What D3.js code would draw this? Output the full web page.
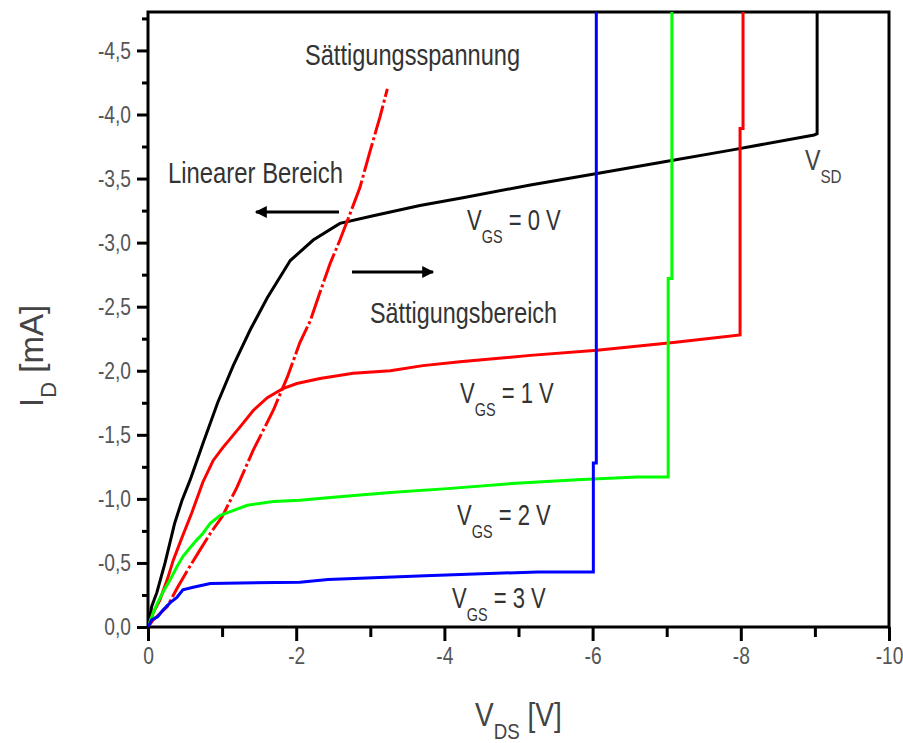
<!DOCTYPE html>
<html>
<head>
<meta charset="utf-8">
<script src="https://cdn.jsdelivr.net/npm/d3@7"></script>
<style>
  body { margin: 0; background: #fff; }
  text { font-family: "Liberation Sans", Arial, sans-serif; }
</style>
</head>
<body>
<svg id="chart" width="903" height="743"></svg>
<script>
// output characteristics of the transistor, [V_DS (V), I_D (mA)]
var curve0V = [[0,0],[-0.05,-0.16],[-0.12,-0.27],[-0.23,-0.5],[-0.36,-0.81],[-0.46,-0.99],[-0.57,-1.15],
  [-0.74,-1.43],[-0.94,-1.75],[-1.15,-2.04],[-1.38,-2.32],[-1.61,-2.57],[-1.92,-2.86],[-2.23,-3.02],
  [-2.59,-3.15],[-3.04,-3.21],[-3.67,-3.29],[-4.25,-3.35],[-5.16,-3.45],[-6.06,-3.54],[-6.95,-3.63],
  [-7.85,-3.72],[-8.99,-3.84],[-9.03,-3.85],[-9.03,-5]]
var curve1V = [[0,0],[-0.07,-0.11],[-0.16,-0.21],[-0.26,-0.37],[-0.34,-0.52],[-0.46,-0.7],[-0.59,-0.89],
  [-0.74,-1.13],[-0.88,-1.3],[-1.01,-1.4],[-1.24,-1.56],[-1.42,-1.69],[-1.61,-1.79],[-1.82,-1.86],
  [-2.01,-1.9],[-2.32,-1.94],[-2.77,-1.98],[-3.27,-2.0],[-3.71,-2.04],[-4.21,-2.07],[-5.16,-2.12],
  [-6.06,-2.16],[-7.09,-2.22],[-7.99,-2.28],[-7.99,-3.89],[-8.03,-3.89],[-8.03,-5]]
var curve2V = [[0,0],[-0.07,-0.11],[-0.13,-0.19],[-0.2,-0.27],[-0.3,-0.37],[-0.39,-0.47],[-0.47,-0.55],
  [-0.57,-0.62],[-0.66,-0.68],[-0.74,-0.73],[-0.84,-0.81],[-0.97,-0.87],[-1.11,-0.9],[-1.34,-0.95],
  [-1.69,-0.98],[-2.05,-0.99],[-2.46,-1.01],[-3.27,-1.05],[-4.04,-1.08],[-4.91,-1.12],[-5.79,-1.15],
  [-6.6,-1.17],[-7.02,-1.17],[-7.02,-2.72],[-7.07,-2.72],[-7.07,-5]]
var curve3V = [[0,0],[-0.05,-0.055],[-0.13,-0.08],[-0.2,-0.13],[-0.3,-0.19],[-0.39,-0.23],[-0.47,-0.29],
  [-0.61,-0.31],[-0.84,-0.34],[-2.05,-0.35],[-2.43,-0.37],[-3.74,-0.4],[-5.26,-0.43],[-6.01,-0.43],
  [-6.01,-1.28],[-6.05,-1.28],[-6.05,-5]]
// saturation voltage locus
var satLine = [[0,0],[-0.07,-0.055],[-0.26,-0.16],[-0.4,-0.31],[-0.53,-0.44],[-0.7,-0.6],[-0.84,-0.73],
  [-1.0,-0.86],[-1.2,-1.09],[-1.42,-1.38],[-1.69,-1.69],[-1.88,-1.95],[-2.05,-2.22],[-2.19,-2.39],
  [-2.32,-2.61],[-2.46,-2.84],[-2.59,-3.02],[-2.73,-3.23],[-2.86,-3.43],[-3.0,-3.72],[-3.13,-3.98],[-3.23,-4.2]]

var xMajor = [0, -2, -4, -6, -8, -10]
var xMinor = [-1, -3, -5, -7, -9]
var yMajor = [0, -0.5, -1, -1.5, -2, -2.5, -3, -3.5, -4, -4.5]
var yMinor = [-0.25, -0.75, -1.25, -1.75, -2.25, -2.75, -3.25, -3.75, -4.25, -4.75]

var margin = {top: 12, right: 14, bottom: 116, left: 148},
    width = 903 - margin.left - margin.right,
    height = 743 - margin.top - margin.bottom;

var svg = d3.select("#chart")
  .append("g")
    .attr("transform", "translate(" + margin.left + "," + margin.top + ")");

var x = d3.scaleLinear().domain([0, -10]).range([0, width])
var y = d3.scaleLinear().domain([0, -4.8]).range([height, 0])

// narrow the glyphs: the source font is a condensed one
function squeeze(sel, f) {
  sel.each(function() {
    var t = d3.select(this)
    var x0 = +t.attr("x") || 0, y0 = +t.attr("y") || 0
    t.attr("x", 0).attr("y", 0)
      .attr("transform", "translate(" + x0 + "," + y0 + ") scale(" + f + ",1)")
  })
}

svg.append("clipPath").attr("id", "plotclip")
  .append("rect").attr("width", width).attr("height", height)

// axes
svg.append("g")
  .attr("transform", "translate(0," + height + ")")
  .call(d3.axisBottom(x).tickValues(xMajor).tickSize(14).tickSizeOuter(0).tickPadding(6)
    .tickFormat(function(d) { return d === 0 ? "0" : String(d) }))
svg.append("g")
  .attr("transform", "translate(0," + height + ")")
  .call(d3.axisBottom(x).tickValues(xMinor).tickSize(10).tickSizeOuter(0).tickFormat(""))

svg.append("g")
  .call(d3.axisLeft(y).tickValues(yMajor).tickSize(11).tickSizeOuter(0).tickPadding(6)
    .tickFormat(function(d) { return d === 0 ? "0,0" : d.toFixed(1).replace(".", ",") }))
svg.append("g")
  .call(d3.axisLeft(y).tickValues(yMinor).tickSize(6).tickSizeOuter(0).tickFormat(""))

svg.selectAll(".domain").remove()
svg.selectAll(".tick line").attr("stroke", "#000").attr("stroke-width", 3)
svg.selectAll(".tick text").attr("fill", "#555").style("font-size", "24px")
  .call(squeeze, 0.8)

// frame
svg.append("rect")
  .attr("width", width).attr("height", height)
  .attr("fill", "none").attr("stroke", "#000").attr("stroke-width", 3)

// curves
var line = d3.line()
  .x(function(d) { return x(d[0]) })
  .y(function(d) { return y(d[1]) })

var plot = svg.append("g").attr("clip-path", "url(#plotclip)")

plot.append("path").datum(curve0V).attr("d", line)
  .attr("fill", "none").attr("stroke", "#000").attr("stroke-width", 3)
plot.append("path").datum(curve1V).attr("d", line)
  .attr("fill", "none").attr("stroke", "#ff0000").attr("stroke-width", 3)
plot.append("path").datum(satLine).attr("d", line)
  .attr("fill", "none").attr("stroke", "#ff0000").attr("stroke-width", 3)
  .attr("stroke-dasharray", "30,3,3,3")
plot.append("path").datum(curve2V).attr("d", line)
  .attr("fill", "none").attr("stroke", "#00ff00").attr("stroke-width", 3)
plot.append("path").datum(curve3V).attr("d", line)
  .attr("fill", "none").attr("stroke", "#0000ff").attr("stroke-width", 3)

// annotations (page coordinates)
var page = d3.select("#chart")

function label(txt, px, py, len) {
  var t = page.append("text").attr("x", px).attr("y", py)
    .attr("fill", "#333").style("font-size", "29px").text(txt)
  if (len) t.attr("textLength", len).attr("lengthAdjust", "spacingAndGlyphs")
  return t
}
label("Sättigungsspannung", 305, 65, 215)
label("Linearer Bereich", 168, 183, 175)
label("Sättigungsbereich", 370, 323, 187)

function vgs(value, px, py) {
  var t = page.append("text").attr("x", px).attr("y", py).attr("fill", "#333").style("font-size", "29px")
  t.append("tspan").text("V")
  t.append("tspan").attr("dy", 13).style("font-size", "19px").text("GS")
  t.append("tspan").attr("dy", -13).text(" = " + value + " V")
  squeeze(t, 0.76)
}
vgs(0, 467, 230)
vgs(1, 460, 403)
vgs(2, 457, 525)
vgs(3, 452, 608)

var vsd = page.append("text").attr("x", 805).attr("y", 170).attr("fill", "#444").style("font-size", "29px")
vsd.append("tspan").text("V")
vsd.append("tspan").attr("dy", 13).style("font-size", "19px").text("SD")
squeeze(vsd, 0.8)

// arrows
page.append("defs").append("marker")
  .attr("id", "head").attr("viewBox", "0 0 10 10").attr("refX", 9).attr("refY", 5)
  .attr("markerWidth", 5).attr("markerHeight", 4).attr("markerUnits", "strokeWidth")
  .attr("orient", "auto")
  .append("path").attr("d", "M0,0L10,5L0,10z").attr("fill", "#000")
page.append("line").attr("x1", 339).attr("y1", 212).attr("x2", 256).attr("y2", 212)
  .attr("stroke", "#000").attr("stroke-width", 3).attr("marker-end", "url(#head)")
page.append("line").attr("x1", 352).attr("y1", 272).attr("x2", 433).attr("y2", 272)
  .attr("stroke", "#000").attr("stroke-width", 3).attr("marker-end", "url(#head)")

// axis titles
var xt = page.append("text").attr("x", 475).attr("y", 726).attr("fill", "#444").style("font-size", "33px")
xt.append("tspan").text("V")
xt.append("tspan").attr("dy", 13).style("font-size", "22px").text("DS")
xt.append("tspan").attr("dy", -13).text(" [V]")
squeeze(xt, 0.85)

var yt = page.append("text").attr("transform", "translate(43,407) rotate(-90)")
  .attr("fill", "#444").style("font-size", "33px")
yt.append("tspan").text("I")
yt.append("tspan").attr("dy", 13).style("font-size", "22px").text("D")
yt.append("tspan").attr("dy", -13).text(" [mA]")
</script>
</body>
</html>
